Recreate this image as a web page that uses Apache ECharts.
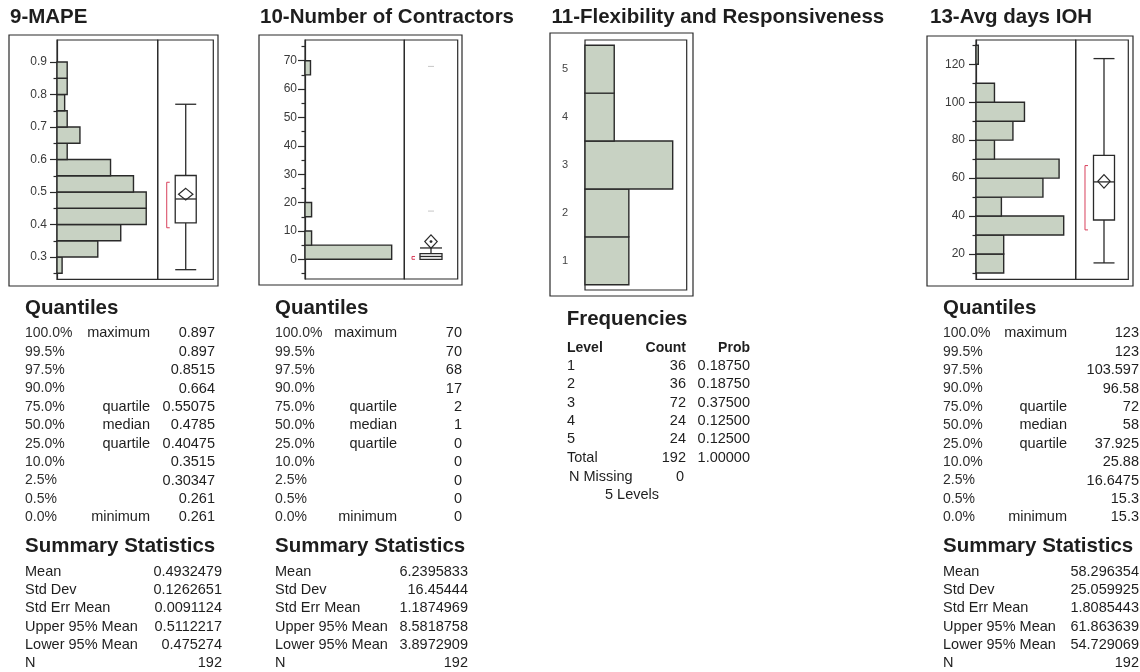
<!DOCTYPE html>
<html><head><meta charset="utf-8">
<script src="https://cdn.jsdelivr.net/npm/echarts@6/dist/echarts.min.js"></script>
<style>html,body{margin:0;padding:0;background:#fff}#c{width:1140px;height:672px}</style>
</head><body><div id="c"></div>
<script>
// ================= DATA =================
const titles = ['9-MAPE', '10-Number of Contractors', '11-Flexibility and Responsiveness', '13-Avg days IOH'];

// 9-MAPE histogram (bin start, width 0.05)
const mapeBinStarts = [0.25, 0.30, 0.35, 0.40, 0.45, 0.50, 0.55, 0.60, 0.65, 0.70, 0.75, 0.80, 0.85];
const mapeCounts    = [2, 16, 25, 35, 35, 30, 21, 4, 9, 4, 3, 4, 4];
const mapeBinWidth  = 0.05;
const mapeTicks      = [0.3, 0.4, 0.5, 0.6, 0.7, 0.8, 0.9];
const mapeMinorTicks = [0.25, 0.35, 0.45, 0.55, 0.65, 0.75, 0.85];
const mapeBox          = [0.261, 0.40475, 0.4785, 0.55075, 0.77]; // whisker low, Q1, median, Q3, whisker high
const mapeMeanCI       = [0.475274, 0.4932479, 0.5112217];
const mapeShortestHalf = [0.39, 0.53];

// 10-Number of Contractors histogram (bin start, width 5)
const contractorsBinStarts = [0, 5, 10, 15, 20, 25, 30, 35, 40, 45, 50, 55, 60, 65];
const contractorsCounts    = [158, 12, 0, 12, 0, 0, 0, 0, 0, 0, 0, 0, 0, 10];
const contractorsBinWidth  = 5;
const contractorsTicks      = [0, 10, 20, 30, 40, 50, 60, 70];
const contractorsMinorTicks = [-5, 5, 15, 25, 35, 45, 55, 65, 75];
const contractorsBox          = [0, 0, 1, 2, 4];
const contractorsMeanCI       = [3.8972909, 6.2395833, 8.5818758];
const contractorsShortestHalf = [0, 1];
const contractorsOutliers     = [17, 68];

// 11-Flexibility and Responsiveness
const flexLevels = [1, 2, 3, 4, 5];
const flexCounts = [36, 36, 72, 24, 24];
const flexProbs  = ['0.18750', '0.18750', '0.37500', '0.12500', '0.12500'];
const flexTotalProb = '1.00000';
const flexMissing = 0;

// 13-Avg days IOH histogram (bin start, width 10)
const iohBinStarts = [10, 20, 30, 40, 50, 60, 70, 80, 90, 100, 110, 120];
const iohCounts    = [12, 12, 38, 11, 29, 36, 8, 16, 21, 8, 0, 1];
const iohBinWidth  = 10;
const iohTicks      = [20, 40, 60, 80, 100, 120];
const iohMinorTicks = [10, 30, 50, 70, 90, 110, 130];
const iohBox          = [15.3, 37.925, 58, 72, 123];
const iohMeanCI       = [54.729069, 58.296354, 61.863639];
const iohShortestHalf = [32.7, 66.6];

// Tables
const quantilePcts   = ['100.0%', '99.5%', '97.5%', '90.0%', '75.0%', '50.0%', '25.0%', '10.0%', '2.5%', '0.5%', '0.0%'];
const quantileLabels = ['maximum', '', '', '', 'quartile', 'median', 'quartile', '', '', '', 'minimum'];
const mapeQuantiles        = ['0.897', '0.897', '0.8515', '0.664', '0.55075', '0.4785', '0.40475', '0.3515', '0.30347', '0.261', '0.261'];
const contractorsQuantiles = ['70', '70', '68', '17', '2', '1', '0', '0', '0', '0', '0'];
const iohQuantiles         = ['123', '123', '103.597', '96.58', '72', '58', '37.925', '25.88', '16.6475', '15.3', '15.3'];
const summaryLabels = ['Mean', 'Std Dev', 'Std Err Mean', 'Upper 95% Mean', 'Lower 95% Mean', 'N'];
const mapeSummary        = ['0.4932479', '0.1262651', '0.0091124', '0.5112217', '0.475274', '192'];
const contractorsSummary = ['6.2395833', '16.45444', '1.1874969', '8.5818758', '3.8972909', '192'];
const iohSummary         = ['58.296354', '25.059925', '1.8085443', '61.863639', '54.729069', '192'];

// ================= LAYOUT / STYLE =================
const FONT = '"Liberation Sans", Arial, Helvetica, sans-serif';
const BAR_FILL = '#c8d2c3';
const INK = '#2a2a2a';
const RED = '#d8405c';

const panels = [
  { hist: {left: 57, top: 40, width: 100.7, height: 239.3}, box: {left: 157.7, top: 40, width: 55.6, height: 239.3},
    yMin: 0.2314, yMax: 0.9677, xMax: 39.5, labelMargin: 10, boxX: 0.504, boxHalf: 10.5, diamondHalf: 7.2, dot: false,
    fmt: v => v.toFixed(1) },
  { hist: {left: 305, top: 40, width: 99.3, height: 239}, box: {left: 404.3, top: 40, width: 53.4, height: 239},
    yMin: -6.94, yMax: 77.3, xMax: 181, labelMargin: 8, boxX: 0.5, boxHalf: 11, diamondHalf: 6.2, dot: true,
    fmt: v => String(Math.round(v)) },
  { hist: {left: 976, top: 40, width: 99.7, height: 239.3}, box: {left: 1075.7, top: 40, width: 52.6, height: 239.3},
    yMin: 6.66, yMax: 132.8, xMax: 43.2, labelMargin: 11, boxX: 0.538, boxHalf: 10.5, diamondHalf: 6.2, dot: false,
    fmt: v => String(Math.round(v)) }
];

const histSets = [
  {starts: mapeBinStarts, counts: mapeCounts, w: mapeBinWidth, ticks: mapeTicks, minor: mapeMinorTicks,
   box: mapeBox, ci: mapeMeanCI, sh: mapeShortestHalf, outliers: []},
  {starts: contractorsBinStarts, counts: contractorsCounts, w: contractorsBinWidth, ticks: contractorsTicks, minor: contractorsMinorTicks,
   box: contractorsBox, ci: contractorsMeanCI, sh: contractorsShortestHalf, outliers: contractorsOutliers},
  {starts: iohBinStarts, counts: iohCounts, w: iohBinWidth, ticks: iohTicks, minor: iohMinorTicks,
   box: iohBox, ci: iohMeanCI, sh: iohShortestHalf, outliers: []}
];

// ================= BUILD =================
const grid = [], xAxis = [], yAxis = [], series = [];
const gridStyle = {show: true, borderColor: INK, borderWidth: 1.2, backgroundColor: 'transparent', containLabel: false};

function histRender(params, api) {
  const lo = api.value(0), hi = api.value(1), n = api.value(2);
  if (!n) return null;
  const a = api.coord([0, hi]), b = api.coord([n, lo]);
  return {type: 'rect', shape: {x: a[0], y: a[1], width: b[0] - a[0], height: b[1] - a[1]},
          style: {fill: BAR_FILL, stroke: INK, lineWidth: 1.4}};
}

function makeBoxRender(p) {
  return function (params, api) {
    const v = k => api.value(k);
    const X = v(0);
    const yc = val => api.coord([X, val])[1];
    const cx = api.coord([X, v(3)])[0];
    const hw = p.boxHalf;
    const yWlo = yc(v(1)), yQ1 = yc(v(2)), yMed = yc(v(3)), yQ3 = yc(v(4)), yWhi = yc(v(5));
    const ln = (x1, y1, x2, y2, st) => ({type: 'line', shape: {x1, y1, x2, y2},
      style: Object.assign({stroke: INK, lineWidth: 1.3}, st || {})});
    const ch = [];
    if (yWhi < yQ3 - 0.5) { ch.push(ln(cx, yWhi, cx, yQ3)); ch.push(ln(cx - hw, yWhi, cx + hw, yWhi)); }
    if (yWlo > yQ1 + 0.5) { ch.push(ln(cx, yQ1, cx, yWlo)); ch.push(ln(cx - hw, yWlo, cx + hw, yWlo)); }
    ch.push({type: 'rect', shape: {x: cx - hw, y: yQ3, width: 2 * hw, height: yQ1 - yQ3},
             style: {fill: '#fff', stroke: INK, lineWidth: 1.3}});
    ch.push(ln(cx - hw, yMed, cx + hw, yMed));
    const yl = yc(v(6)), ym = yc(v(7)), yh = yc(v(8)), dw = p.diamondHalf;
    ch.push({type: 'polygon', shape: {points: [[cx, yh], [cx + dw, ym], [cx, yl], [cx - dw, ym]]},
             style: {fill: p.dot ? '#fff' : 'none', stroke: INK, lineWidth: 1.2}});
    if (p.dot) ch.push({type: 'circle', shape: {cx: cx, cy: ym, r: 1.4}, style: {fill: INK}});
    const bx = cx - 19, ys1 = yc(v(10)), ys0 = yc(v(9));
    ch.push({type: 'polyline', shape: {points: [[bx + 3, ys1], [bx, ys1], [bx, ys0], [bx + 3, ys0]]},
             style: {stroke: RED, lineWidth: 1, fill: 'none'}});
    return {type: 'group', children: ch};
  };
}

panels.forEach((p, i) => {
  const d = histSets[i];
  const gH = grid.length;
  grid.push(Object.assign({}, gridStyle, p.hist));
  grid.push(Object.assign({}, gridStyle, p.box));
  const gB = gH + 1;
  // hist axes
  const xH = xAxis.length;
  xAxis.push({type: 'value', gridIndex: gH, min: 0, max: p.xMax, show: false});
  xAxis.push({type: 'value', gridIndex: gB, min: 0, max: 1, show: false});
  const yH = yAxis.length;
  yAxis.push({type: 'value', gridIndex: gH, min: p.yMin, max: p.yMax, position: 'left', offset: 0,
    splitLine: {show: false},
    axisLine: {show: true, lineStyle: {color: INK, width: 1.2}},
    axisTick: {show: true, customValues: d.ticks, length: 7, lineStyle: {color: INK, width: 1.2}},
    axisLabel: {customValues: d.ticks, margin: p.labelMargin, color: '#3a3a3a', fontSize: 12, fontFamily: FONT,
                formatter: p.fmt}});
  yAxis.push({type: 'value', gridIndex: gH, min: p.yMin, max: p.yMax, position: 'left', offset: 0,
    splitLine: {show: false}, axisLine: {show: false}, axisLabel: {show: false},
    axisTick: {show: true, customValues: d.minor, length: 3.5, lineStyle: {color: INK, width: 1.2}}});
  yAxis.push({type: 'value', gridIndex: gB, min: p.yMin, max: p.yMax, show: false});
  series.push({type: 'custom', xAxisIndex: xH, yAxisIndex: yH, renderItem: histRender, silent: true,
    data: d.starts.map((s, k) => [s, s + d.w, d.counts[k]])});
  series.push({type: 'custom', xAxisIndex: xH + 1, yAxisIndex: yH + 2, renderItem: makeBoxRender(p), silent: true,
    data: [[p.boxX].concat(d.box, d.ci, d.sh)]});
  if (d.outliers.length) {
    series.push({type: 'scatter', xAxisIndex: xH + 1, yAxisIndex: yH + 2, silent: true,
      symbol: 'rect', symbolSize: [6, 1], itemStyle: {color: '#b8b8b8'},
      data: d.outliers.map(o => [p.boxX, o])});
  }
});

// Flexibility panel
{
  const g = grid.length;
  grid.push(Object.assign({}, gridStyle, {left: 585, top: 40, width: 101.7, height: 250}));
  const xi = xAxis.length, yi = yAxis.length;
  xAxis.push({type: 'value', gridIndex: g, min: 0, max: 83.5, show: false});
  yAxis.push({type: 'value', gridIndex: g, min: 0.39, max: 5.61, splitLine: {show: false},
    axisLine: {show: false}, axisTick: {show: false},
    axisLabel: {customValues: flexLevels, margin: 17, color: '#444', fontSize: 11, fontFamily: FONT,
                formatter: v => String(Math.round(v))}});
  series.push({type: 'custom', xAxisIndex: xi, yAxisIndex: yi, renderItem: histRender, silent: true,
    data: flexLevels.map((lv, k) => [lv - 0.5, lv + 0.5, flexCounts[k]])});
}

// ================= TEXT & FRAMES =================
const graphics = [];
function txt(s, x, y, size, bold, align, color) {
  graphics.push({type: 'text', silent: true, z: 10,
    style: {text: s, x: x, y: y, font: (bold ? 'bold ' : '') + size + 'px ' + FONT,
            fill: color || '#1e1e1e', align: align, textAlign: align,
            verticalAlign: 'middle', textVerticalAlign: 'middle'}});
}
function frame(x, y, w, h) {
  graphics.push({type: 'rect', silent: true, z: 5, shape: {x, y, width: w, height: h},
    style: {fill: 'none', stroke: INK, lineWidth: 1.2}});
}
frame(9, 35, 209, 251);
frame(259, 35, 203, 250);
frame(550, 33, 143, 263);
frame(927, 36, 206, 250);

const titleX = [10, 260, 551.5, 930];
titles.forEach((t, i) => txt(t, titleX[i], 17, 20.5, true, 'left'));

const tableCols = [
  {x: 25, labelR: 150, valR: 215, sumR: 222, q: mapeQuantiles, s: mapeSummary},
  {x: 275, labelR: 397, valR: 462, sumR: 468, q: contractorsQuantiles, s: contractorsSummary},
  {x: 943, labelR: 1067, valR: 1139, sumR: 1139, q: iohQuantiles, s: iohSummary}
];
tableCols.forEach(c => {
  txt('Quantiles', c.x, 308, 20.5, true, 'left');
  quantilePcts.forEach((pct, k) => {
    const y = 333.3 + k * 18.4;
    txt(pct, c.x, y, 14, false, 'left', '#2e2e2e');
    if (quantileLabels[k]) txt(quantileLabels[k], c.labelR, y, 14.5, false, 'right');
    txt(c.q[k], c.valR, y, 14.5, false, 'right');
  });
  txt('Summary Statistics', c.x, 546, 20.5, true, 'left');
  summaryLabels.forEach((lab, k) => {
    const y = 571.7 + k * 18.33;
    txt(lab, c.x, y, 14.5, false, 'left');
    txt(c.s[k], c.sumR, y, 14.5, false, 'right');
  });
});

// Frequencies table
txt('Frequencies', 566.7, 319.5, 20.5, true, 'left');
txt('Level', 567, 348.3, 14, true, 'left');
txt('Count', 686, 348.3, 14, true, 'right');
txt('Prob', 750, 348.3, 14, true, 'right');
flexLevels.forEach((lv, k) => {
  const y = 366 + k * 18.33;
  txt(String(lv), 567, y, 14.5, false, 'left');
  txt(String(flexCounts[k]), 686, y, 14.5, false, 'right');
  txt(flexProbs[k], 750, y, 14.5, false, 'right');
});
const flexTotal = flexCounts.reduce((a, b) => a + b, 0);
txt('Total', 567, 366 + 5 * 18.33, 14.5, false, 'left');
txt(String(flexTotal), 686, 366 + 5 * 18.33, 14.5, false, 'right');
txt(flexTotalProb, 750, 366 + 5 * 18.33, 14.5, false, 'right');
txt('N Missing', 569, 477, 14.5, false, 'left');
txt(String(flexMissing), 684, 477, 14.5, false, 'right');
txt(flexLevels.length + ' Levels', 605, 495, 14.5, false, 'left');

const chart = echarts.init(document.getElementById('c'), null, {renderer: 'canvas'});
chart.setOption({
  animation: false,
  backgroundColor: '#fff',
  grid: grid, xAxis: xAxis, yAxis: yAxis, series: series, graphic: graphics
});
</script>
</body></html>
